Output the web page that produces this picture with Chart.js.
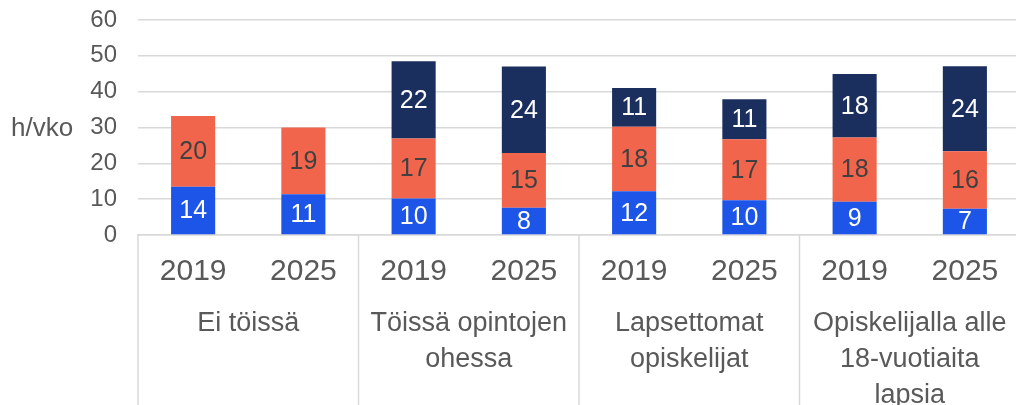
<!DOCTYPE html>
<html>
<head>
<meta charset="utf-8">
<script src="https://cdn.jsdelivr.net/npm/chart.js@4/dist/chart.umd.min.js"></script>
<style>
  html, body { margin: 0; padding: 0; overflow: hidden; background: #fff; width: 1016px; height: 405px; }
  #c { position: absolute; left: 0; top: 0; width: 1020px; height: 405px; }
</style>
</head>
<body>
<canvas id="c" width="1020" height="405"></canvas>
<script>
const years = ['2019', '2025', '2019', '2025', '2019', '2025', '2019', '2025'];
const groups = ['Ei töissä', ['Töissä opintojen', 'ohessa'], ['Lapsettomat', 'opiskelijat'], ['Opiskelijalla alle', '18-vuotiaita', 'lapsia']];
const seriesBlue = [13.5, 11.4, 10.2, 7.6, 12.2, 9.7, 9.3, 7.3];
const seriesOrange = [19.7, 18.6, 16.7, 15.3, 18.0, 17.0, 17.9, 16.1];
const seriesNavy = [0, 0, 21.6, 24.1, 10.8, 11.2, 17.7, 23.7];
const yTicks = [0, 10, 20, 30, 40, 50, 60];
const yTitle = 'h/vko';

const FONT = '"Liberation Sans", Arial, sans-serif';
const GRAY = '#595959';
const GRID = '#d9d9d9';

const labelPlugin = {
  id: 'labels',
  afterDatasetsDraw(chart) {
    const ctx = chart.ctx;
    ctx.save();
    ctx.font = '25px ' + FONT;
    ctx.textAlign = 'center';
    ctx.textBaseline = 'middle';
    chart.data.datasets.forEach((ds, di) => {
      const meta = chart.getDatasetMeta(di);
      meta.data.forEach((el, i) => {
        const v = ds.data[i];
        if (!v) return;
        ctx.fillStyle = ds.labelColor;
        ctx.fillText(String(Math.round(v)), el.x, (el.y + el.base) / 2 + 1);
      });
    });
    ctx.restore();
  }
};

const extraPlugin = {
  id: 'extra',
  afterDraw(chart) {
    const ctx = chart.ctx;
    const x = chart.scales.x;
    const y = chart.scales.y;
    ctx.save();
    ctx.strokeStyle = GRID;
    ctx.lineWidth = 1.5;
    const n = years.length;
    const step = (x.getPixelForValue(1) - x.getPixelForValue(0));
    for (let g = 0; g <= n; g += 2) {
      const px = x.getPixelForValue(g) - step / 2;
      ctx.beginPath();
      ctx.moveTo(px, y.getPixelForValue(0));
      ctx.lineTo(px, chart.height);
      ctx.stroke();
    }
    ctx.fillStyle = GRAY;
    ctx.font = '26px ' + FONT;
    ctx.textAlign = 'left';
    ctx.textBaseline = 'middle';
    ctx.fillText(yTitle, 11, y.getPixelForValue(30) + 1);
    ctx.restore();
  }
};

function noSidePad(s, h) {
  s.height = h;
  s.paddingLeft = 0;
  s.paddingRight = 0;
}

new Chart(document.getElementById('c'), {
  type: 'bar',
  data: {
    labels: years,
    datasets: [
      { data: seriesBlue, backgroundColor: '#1c55e8', labelColor: '#ffffff' },
      { data: seriesOrange, backgroundColor: '#f1654c', labelColor: '#404040' },
      { data: seriesNavy, backgroundColor: '#1b2f5e', labelColor: '#ffffff' }
    ]
  },
  options: {
    responsive: false,
    maintainAspectRatio: false,
    animation: false,
    events: [],
    layout: { padding: { top: 20, left: 0, right: 0, bottom: 0 } },
    datasets: { bar: { barPercentage: 0.4, categoryPercentage: 1.0 } },
    plugins: { legend: { display: false }, tooltip: { enabled: false } },
    scales: {
      x: {
        stacked: true,
        weight: 1,
        offset: true,
        grid: { display: false, drawTicks: false },
        border: { display: true, color: GRID, width: 1.5 },
        ticks: { color: GRAY, font: { family: FONT, size: 30 }, padding: 19, maxRotation: 0, autoSkip: false },
        afterFit(s) { noSidePad(s, 52); }
      },
      x2: {
        type: 'category',
        position: 'bottom',
        labels: groups,
        weight: 2,
        offset: true,
        grid: { display: false, drawTicks: false },
        border: { display: false },
        ticks: { color: GRAY, font: { family: FONT, size: 27, lineHeight: 1.32 }, padding: 19, maxRotation: 0, autoSkip: false },
        afterFit(s) { noSidePad(s, 118); }
      },
      y: {
        stacked: true,
        min: 0,
        max: 60,
        afterBuildTicks(s) { s.ticks = yTicks.map(v => ({ value: v })); },
        grid: { color: GRID, lineWidth: 1.5, drawTicks: true, tickLength: 21, tickColor: 'rgba(0,0,0,0)' },
        border: { display: false },
        ticks: { color: GRAY, font: { family: FONT, size: 24 }, padding: 0 },
        afterFit(s) { s.width = 138; }
      }
    }
  },
  plugins: [labelPlugin, extraPlugin]
});
</script>
</body>
</html>
